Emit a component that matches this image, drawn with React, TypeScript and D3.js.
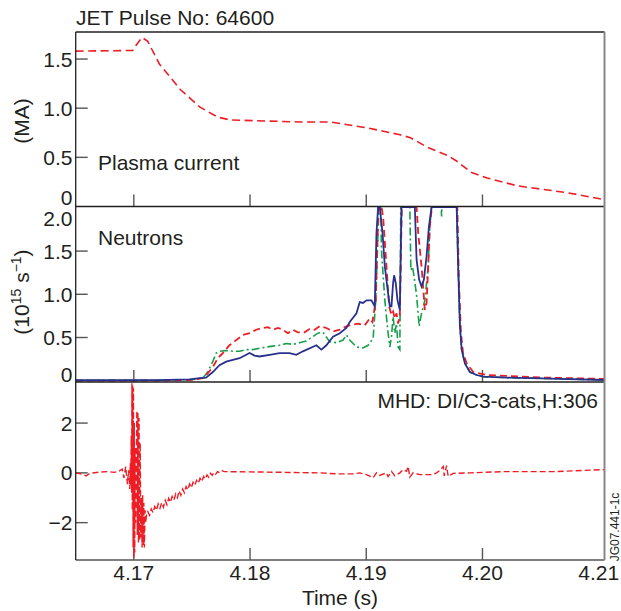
import React from "react";
import * as d3 from "d3";

// ---------- DATA ----------
const xTicks = [4.17, 4.18, 4.19, 4.2, 4.21];
const xTickLabels = ["4.17", "4.18", "4.19", "4.20", "4.21"];
const currentTicks = [0, 0.5, 1.0, 1.5];
const currentTickLabels = ["0", "0.5", "1.0", "1.5"];
const neutronTicks = [0, 0.5, 1.0, 1.5, 2.0];
const neutronTickLabels = ["0", "0.5", "1.0", "1.5", "2.0"];
const mhdTicks = [-2, 0, 2];
const mhdTickLabels = ["\u22122", "0", "2"];

// plasma current (MA) vs time (s)
const plasmaCurrent: [number, number][] = [
  [4.165, 1.58], [4.1699, 1.587], [4.1702, 1.64], [4.1707, 1.72], [4.1712, 1.68],
  [4.1722, 1.45], [4.174, 1.19], [4.1757, 1.01], [4.1772, 0.91], [4.1783, 0.88],
  [4.1843, 0.86], [4.1869, 0.86], [4.1901, 0.8], [4.1929, 0.73], [4.1938, 0.7],
  [4.1953, 0.6], [4.197, 0.52], [4.1978, 0.46], [4.199, 0.35], [4.2004, 0.29],
  [4.203, 0.21], [4.2073, 0.14], [4.2105, 0.07],
];

// neutron rate (1e15 /s), three channels
const neutronBlue: [number, number][] = [
  [4.165, 0.005], [4.172, 0.006], [4.1748, 0.015], [4.17565, 0.03], [4.17622, 0.035],
  [4.1768, 0.1], [4.17737, 0.18], [4.17795, 0.22], [4.17852, 0.24], [4.1791, 0.26],
  [4.17967, 0.3], [4.17996, 0.32], [4.18039, 0.29], [4.18082, 0.28], [4.18168, 0.3],
  [4.18254, 0.32], [4.1834, 0.32], [4.18398, 0.3], [4.18455, 0.34], [4.18571, 0.41],
  [4.18614, 0.36], [4.18657, 0.41], [4.18714, 0.51], [4.18772, 0.55], [4.18829, 0.61],
  [4.18858, 0.68], [4.18916, 0.78], [4.18944, 0.91], [4.18972, 0.9], [4.19002, 0.93],
  [4.19045, 0.93], [4.19073, 0.86], [4.19088, 1.71], [4.19102, 2.01], [4.19116, 2.01],
  [4.1914, 1.71], [4.1916, 1.32], [4.19188, 1.01], [4.19203, 0.86], [4.19217, 0.86],
  [4.19231, 1.13], [4.1924, 1.22], [4.19254, 1.13], [4.19269, 0.93], [4.19289, 0.82],
  [4.19303, 2.01], [4.19418, 2.01], [4.19433, 1.4], [4.19455, 1.17], [4.19476, 1.09],
  [4.19496, 1.17], [4.19519, 1.44], [4.19539, 1.78], [4.19562, 2.01], [4.19778, 2.01],
  [4.19791, 1.32], [4.19806, 0.63], [4.19821, 0.36], [4.19849, 0.2], [4.19892, 0.1],
  [4.1995, 0.066], [4.20007, 0.046], [4.20209, 0.035], [4.20496, 0.028], [4.2105, 0.008],
];

const neutronRed: [number, number][] = [
  [4.165, 0.0], [4.172, 0.0], [4.175, 0.01], [4.17593, 0.03], [4.17636, 0.086],
  [4.17679, 0.155], [4.17722, 0.26], [4.17766, 0.32], [4.17823, 0.41], [4.17881, 0.47],
  [4.17938, 0.53], [4.17996, 0.55], [4.18053, 0.59], [4.1811, 0.61], [4.18153, 0.62],
  [4.18197, 0.59], [4.1824, 0.61], [4.18283, 0.59], [4.18326, 0.55], [4.18369, 0.59],
  [4.18412, 0.56], [4.1847, 0.56], [4.18513, 0.6], [4.18556, 0.59], [4.18599, 0.63],
  [4.18657, 0.61], [4.18714, 0.57], [4.18772, 0.59], [4.18829, 0.63], [4.18886, 0.65],
  [4.1893, 0.66], [4.18987, 0.64], [4.1903, 0.72], [4.19053, 0.68], [4.19082, 0.93],
  [4.19105, 2.01], [4.19131, 2.01], [4.19145, 1.9], [4.19174, 1.32], [4.19197, 0.86],
  [4.19217, 0.76], [4.19231, 0.8], [4.19246, 0.72], [4.1926, 0.78], [4.19274, 0.66],
  [4.19289, 0.76], [4.19306, 2.01], [4.19433, 2.01], [4.19447, 1.71], [4.19476, 1.32],
  [4.19504, 0.82], [4.19519, 0.9], [4.19533, 1.32], [4.19547, 1.78], [4.19565, 2.01],
  [4.19784, 2.01], [4.19797, 1.17], [4.19815, 0.55], [4.19832, 0.33], [4.19864, 0.2],
  [4.19921, 0.1], [4.20036, 0.066], [4.20496, 0.037], [4.2105, 0.02],
];

const neutronGreen: [number, number][] = [
  [4.165, 0.003], [4.172, 0.004], [4.175, 0.012], [4.17593, 0.03], [4.17636, 0.1],
  [4.17679, 0.22], [4.17709, 0.32], [4.17737, 0.34], [4.17795, 0.35], [4.17852, 0.34],
  [4.1791, 0.34], [4.17967, 0.36], [4.18024, 0.36], [4.18082, 0.375], [4.1814, 0.39],
  [4.18197, 0.4], [4.18254, 0.41], [4.18312, 0.43], [4.18369, 0.42], [4.18427, 0.44],
  [4.18484, 0.46], [4.18541, 0.51], [4.18584, 0.55], [4.18628, 0.56], [4.18685, 0.45],
  [4.18743, 0.44], [4.188, 0.47], [4.18829, 0.53], [4.18858, 0.47], [4.18916, 0.39],
  [4.18972, 0.38], [4.19016, 0.41], [4.19059, 0.49], [4.19082, 0.93], [4.19099, 1.63],
  [4.1911, 2.01], [4.19125, 2.01], [4.19131, 1.51], [4.1916, 0.93], [4.19188, 0.55],
  [4.19203, 0.39], [4.19217, 0.51], [4.19231, 0.74], [4.19246, 0.55], [4.1926, 0.66],
  [4.19274, 0.39], [4.19289, 0.36], [4.19297, 2.01], [4.19375, 2.01], [4.19384, 1.28],
  [4.19398, 1.32], [4.19412, 1.2], [4.19433, 0.99], [4.19455, 0.63], [4.19476, 0.78],
  [4.19504, 0.93], [4.19533, 1.32], [4.19547, 1.78], [4.19562, 2.01], [4.19645, 2.01],
  [4.19648, 1.9], [4.19651, 2.01], [4.19778, 2.01], [4.19791, 1.32], [4.19806, 0.63],
  [4.19821, 0.36], [4.19849, 0.2], [4.19892, 0.1], [4.1995, 0.066], [4.20007, 0.046],
  [4.20209, 0.035], [4.20496, 0.028], [4.2105, 0.01],
];

// MHD signal (arb.)
const mhdSignal: [number, number][] = [
  [4.165, 0.0], [4.1655, -0.05], [4.1659, -0.12], [4.1662, -0.02], [4.167, 0.03],
  [4.1678, 0.05], [4.1683, 0.02], [4.1687, 0.06], [4.169, 0.15], [4.16915, -0.2],
  [4.1693, 0.25], [4.16945, -0.45], [4.16955, 0.1], [4.16965, -0.65], [4.1697, 0.4],
  [4.16974, -0.5], [4.16978, 1.5], [4.16981, -0.8], [4.16984, 3.6], [4.16987, -1.5],
  [4.1699, 3.5], [4.16994, -3.0], [4.16997, 3.4], [4.17001, -3.4], [4.17004, 2.0],
  [4.17008, -3.2], [4.17011, 1.0], [4.17015, -2.0], [4.1702, -0.5], [4.17026, 2.5],
  [4.1703, -2.5], [4.17035, 2.4], [4.1704, -2.8], [4.17045, 2.2], [4.1705, -2.7],
  [4.17055, 1.2], [4.1706, -2.6], [4.17066, -1.0], [4.17071, -3.0], [4.17076, -0.9],
  [4.17081, -2.9], [4.17086, -1.2], [4.17091, -3.0], [4.17097, -1.5], [4.17103, -2.0],
  [4.1711, -1.6], [4.1712, -1.55], [4.17135, -1.7], [4.1715, -1.45], [4.17165, -1.6],
  [4.1718, -1.35], [4.17195, -1.5], [4.1721, -1.25], [4.17225, -1.42], [4.1724, -1.2],
  [4.17255, -1.38], [4.1727, -1.1], [4.17285, -1.28], [4.173, -1.02], [4.17315, -1.18],
  [4.1733, -0.95], [4.17345, -1.1], [4.1736, -0.85], [4.17375, -1.0], [4.1739, -0.72],
  [4.17405, -0.9], [4.1742, -0.65], [4.17435, -0.8], [4.1745, -0.55], [4.17465, -0.68],
  [4.1748, -0.45], [4.17495, -0.6], [4.1751, -0.38], [4.17525, -0.5], [4.1754, -0.3],
  [4.17555, -0.42], [4.1757, -0.22], [4.17585, -0.35], [4.176, -0.15], [4.17615, -0.25],
  [4.1763, -0.08], [4.17645, -0.18], [4.1766, -0.02], [4.17675, -0.1], [4.1769, 0.02],
  [4.17705, -0.05], [4.1772, 0.05], [4.1774, 0.0], [4.1776, 0.08], [4.1778, 0.05],
  [4.18, 0.04], [4.186, 0.0], [4.18743, -0.04], [4.18886, -0.04], [4.18944, 0.0],
  [4.19002, -0.07], [4.19059, -0.2], [4.19088, 0.0], [4.19116, -0.1], [4.19174, 0.0],
  [4.19188, -0.15], [4.19217, 0.06], [4.19246, -0.12], [4.19289, 0.0], [4.19317, 0.13],
  [4.19347, 0.06], [4.1936, 0.26], [4.19375, -0.17], [4.19403, 0.0], [4.19461, -0.07],
  [4.19573, -0.07], [4.19605, 0.0], [4.19634, 0.1], [4.19662, 0.26], [4.19671, -0.12],
  [4.19691, 0.29], [4.19705, -0.14], [4.19748, -0.02], [4.19892, 0.0], [4.20177, 0.05],
  [4.2061, 0.05], [4.2105, 0.13],
];

// ---------- LAYOUT ----------
const W = 621;
const H = 611;
const L = 75.7;
const R = 604.5;
const P1 = [32, 206.5];
const P2 = [206.5, 382];
const P3 = [382, 560];
const FONT = "'Liberation Sans', Arial, Helvetica, sans-serif";
const TXT = "#231f20";
const RED = "#ee1d25";
const BLUE = "#28318c";
const GREEN = "#16a04b";

export default function App() {
  const x = d3.scaleLinear().domain([4.165, 4.2105]).range([L, R]);
  const y1 = d3.scaleLinear().domain([0, 1.775]).range([P1[1], P1[0]]);
  const y2 = d3.scaleLinear().domain([-0.015, 2.016]).range([P2[1], P2[0]]);
  const y3 = d3.scaleLinear().domain([-3.5, 3.65]).range([P3[1], P3[0]]);

  const mk = (ys: d3.ScaleLinear<number, number>) =>
    d3
      .line<[number, number]>()
      .x((d) => x(d[0]))
      .y((d) => ys(d[1]));

  const l1 = mk(y1);
  const l2 = mk(y2);
  const l3 = mk(y3);

  const xt = xTicks.filter((t) => t < 4.205);

  const panelTicks = (bottom: number) =>
    xt.map((t, i) => (
      <line key={"xt" + bottom + i} x1={x(t)} x2={x(t)} y1={bottom} y2={bottom - 12} stroke="#555" strokeWidth={1.4} />
    ));

  const yTicks = (ticks: number[], labels: string[], ys: d3.ScaleLinear<number, number>, offsets: number[], showTick: boolean[]) =>
    ticks.map((t, i) => (
      <g key={"yt" + i + labels[i]}>
        {showTick[i] && (
          <line x1={L} x2={L + 12} y1={ys(t)} y2={ys(t)} stroke="#555" strokeWidth={1.4} />
        )}
        <text x={72.5} y={ys(t) + 7.5 + offsets[i]} textAnchor="end" fontSize={21} fill={TXT} fontFamily={FONT}>
          {labels[i]}
        </text>
      </g>
    ));

  return (
    <svg width={W} height={H} style={{ position: "absolute", left: 0, top: 0, background: "#fff" }}>
      <defs>
        <clipPath id="c1"><rect x={L} y={P1[0]} width={R - L} height={P1[1] - P1[0]} /></clipPath>
        <clipPath id="c2"><rect x={L} y={P2[0] - 1} width={R - L} height={P2[1] - P2[0] + 1} /></clipPath>
        <clipPath id="c3"><rect x={L} y={P3[0]} width={R - L} height={P3[1] - P3[0]} /></clipPath>
      </defs>

      {/* title */}
      <text x={76} y={25} fontSize={21} fill={TXT} fontFamily={FONT}>JET Pulse No: 64600</text>

      {/* ticks */}
      {panelTicks(P1[1])}
      {panelTicks(P2[1])}
      {panelTicks(P3[1])}
      {yTicks(currentTicks, currentTickLabels, y1, [-9.5, 0, 0, 0], [false, true, true, true])}
      {yTicks(neutronTicks, neutronTickLabels, y2, [-6, 0, 0, 0, 11], [false, true, true, true, false])}
      {yTicks(mhdTicks, mhdTickLabels, y3, [0, 0, 0], [true, true, true])}

      {/* data */}
      <g clipPath="url(#c1)">
        <path d={l1(plasmaCurrent) || ""} fill="none" stroke={RED} strokeWidth={1.6} strokeDasharray="8,4.5" />
      </g>
      <g clipPath="url(#c2)">
        <path d={l2(neutronGreen) || ""} fill="none" stroke={GREEN} strokeWidth={1.6} strokeDasharray="8,3,2,3" />
        <path d={l2(neutronRed) || ""} fill="none" stroke={RED} strokeWidth={1.8} strokeDasharray="7,4" />
        <path d={l2(neutronBlue) || ""} fill="none" stroke={BLUE} strokeWidth={1.8} />
      </g>
      <g clipPath="url(#c3)">
        <path d={l3(mhdSignal) || ""} fill="none" stroke={RED} strokeWidth={1.4} strokeDasharray="6,3" />
      </g>

      {/* frames */}
      <line x1={L} x2={R} y1={P1[0]} y2={P1[0]} stroke={TXT} strokeWidth={1.3} />
      <line x1={L} x2={R} y1={P1[1]} y2={P1[1]} stroke={TXT} strokeWidth={1.3} />
      <line x1={L} x2={R} y1={P2[1]} y2={P2[1]} stroke={TXT} strokeWidth={1.3} />
      <line x1={L} x2={R} y1={P3[1]} y2={P3[1]} stroke="#555" strokeWidth={1.5} />
      <line x1={L} x2={L} y1={P1[0]} y2={P3[1]} stroke={TXT} strokeWidth={1.3} />
      <line x1={R} x2={R} y1={P1[0]} y2={P3[1]} stroke="#888" strokeWidth={2} />

      {/* panel labels */}
      <text x={98} y={169.5} fontSize={21} fill={TXT} fontFamily={FONT}>Plasma current</text>
      <text x={98} y={245} fontSize={21} fill={TXT} fontFamily={FONT}>Neutrons</text>
      <text x={598} y={408} textAnchor="end" fontSize={21} fill={TXT} fontFamily={FONT}>MHD: DI/C3-cats,H:306</text>

      {/* y axis titles */}
      <text transform="translate(29,121) rotate(-90)" textAnchor="middle" fontSize={21} fill={TXT} fontFamily={FONT}>(MA)</text>
      <text transform="translate(29,292) rotate(-90)" textAnchor="middle" fontSize={21} fill={TXT} fontFamily={FONT}>
        (10<tspan fontSize={14} dy={-8}>15</tspan>
        <tspan dy={8}> s</tspan>
        <tspan fontSize={14} dy={-8}>{"\u22121"}</tspan>
        <tspan dy={8}>)</tspan>
      </text>

      {/* x tick labels */}
      {xTicks.map((t, i) => (
        <text key={"xl" + i} x={x(t)} y={580} textAnchor="middle" fontSize={21} fill={TXT} fontFamily={FONT}>
          {xTickLabels[i]}
        </text>
      ))}
      <text x={340} y={605} textAnchor="middle" fontSize={21} fill={TXT} fontFamily={FONT}>Time (s)</text>

      {/* figure id */}
      <text transform="translate(619,527) rotate(-90)" textAnchor="middle" fontSize={12} fill={TXT} fontFamily={FONT}>JG07.441-1c</text>
    </svg>
  );
}
